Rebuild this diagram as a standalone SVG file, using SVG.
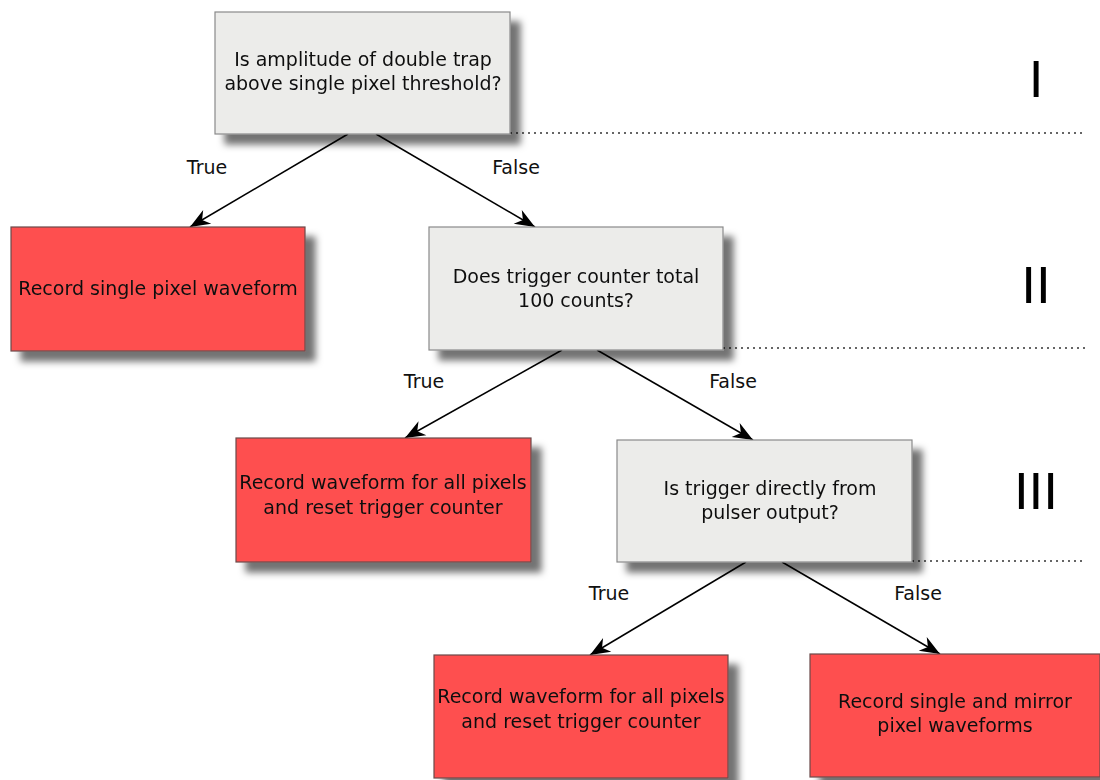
<svg xmlns="http://www.w3.org/2000/svg" width="1100" height="780" viewBox="0 0 1100 780">
<style>
.q{fill:#ececea;stroke:#8a8a8a;stroke-width:1.2}
.r{fill:#fe5050;stroke:#6a4a4a;stroke-width:1.2}
.t{font-family:"DejaVu Sans",sans-serif;font-size:19px;fill:#111;text-anchor:middle}
.l{font-family:"DejaVu Sans",sans-serif;font-size:19px;fill:#111;text-anchor:middle}
.n{font-family:"DejaVu Sans",sans-serif;font-size:50px;fill:#000;text-anchor:middle}
.c{stroke:#000;stroke-width:1.5;fill:none;marker-end:url(#ah)}
.d{stroke:#333;stroke-width:1.5;stroke-dasharray:2,4;fill:none}
</style>
<defs>
<filter id="sh" x="-10%" y="-10%" width="130%" height="140%">
<feGaussianBlur in="SourceAlpha" stdDeviation="3.5"/>
<feOffset dx="10" dy="10" result="b"/>
<feFlood flood-color="#000" flood-opacity="0.55"/>
<feComposite in2="b" operator="in" result="s"/>
<feMerge><feMergeNode in="s"/><feMergeNode in="SourceGraphic"/></feMerge>
</filter>
<marker id="ah" markerWidth="24" markerHeight="18" refX="21" refY="9" orient="auto" markerUnits="userSpaceOnUse">
<path d="M21,9 L1,1 L7,9 L1,17 Z" fill="#000"/>
</marker>
</defs>
<g id="levels">
<path class="d" d="M510,133 H1085 M723,348 H1085 M912,561 H1085"/>
<text class="n" x="1036" y="97">I</text>
<text class="n" x="1036" y="303">II</text>
<text class="n" x="1036" y="509">III</text>
</g>
<g id="connectors">
<path class="c" d="M348,134 L190,227"/>
<path class="c" d="M376,134 L535,227"/>
<path class="c" d="M562,350 L405,438"/>
<path class="c" d="M597,350 L753,440"/>
<path class="c" d="M746,562 L590,655"/>
<path class="c" d="M782,562 L940,654"/>
<text class="l" x="207" y="174">True</text>
<text class="l" x="516" y="174">False</text>
<text class="l" x="424" y="388">True</text>
<text class="l" x="733" y="388">False</text>
<text class="l" x="609" y="600">True</text>
<text class="l" x="918" y="600">False</text>
</g>
<g id="q1" filter="url(#sh)">
<rect class="q" x="215" y="12" width="295" height="122"/>
<text class="t" x="363" y="66">Is amplitude of double trap</text>
<text class="t" x="363" y="90">above single pixel threshold?</text>
</g>
<g id="r1" filter="url(#sh)">
<rect class="r" x="11" y="227" width="294" height="124"/>
<text class="t" x="158" y="295">Record single pixel waveform</text>
</g>
<g id="q2" filter="url(#sh)">
<rect class="q" x="429" y="227" width="294" height="123"/>
<text class="t" x="576" y="283">Does trigger counter total</text>
<text class="t" x="576" y="307">100 counts?</text>
</g>
<g id="r2" filter="url(#sh)">
<rect class="r" x="236" y="438" width="295" height="124"/>
<text class="t" x="383" y="489">Record waveform for all pixels</text>
<text class="t" x="383" y="514">and reset trigger counter</text>
</g>
<g id="q3" filter="url(#sh)">
<rect class="q" x="617" y="440" width="295" height="122"/>
<text class="t" x="770" y="495">Is trigger directly from</text>
<text class="t" x="770" y="519">pulser output?</text>
</g>
<g id="r3" filter="url(#sh)">
<rect class="r" x="434" y="655" width="294" height="123"/>
<text class="t" x="581" y="703">Record waveform for all pixels</text>
<text class="t" x="581" y="728">and reset trigger counter</text>
</g>
<g id="r4" filter="url(#sh)">
<rect class="r" x="810" y="654" width="290" height="123"/>
<text class="t" x="955" y="708">Record single and mirror</text>
<text class="t" x="955" y="732">pixel waveforms</text>
</g>
</svg>
